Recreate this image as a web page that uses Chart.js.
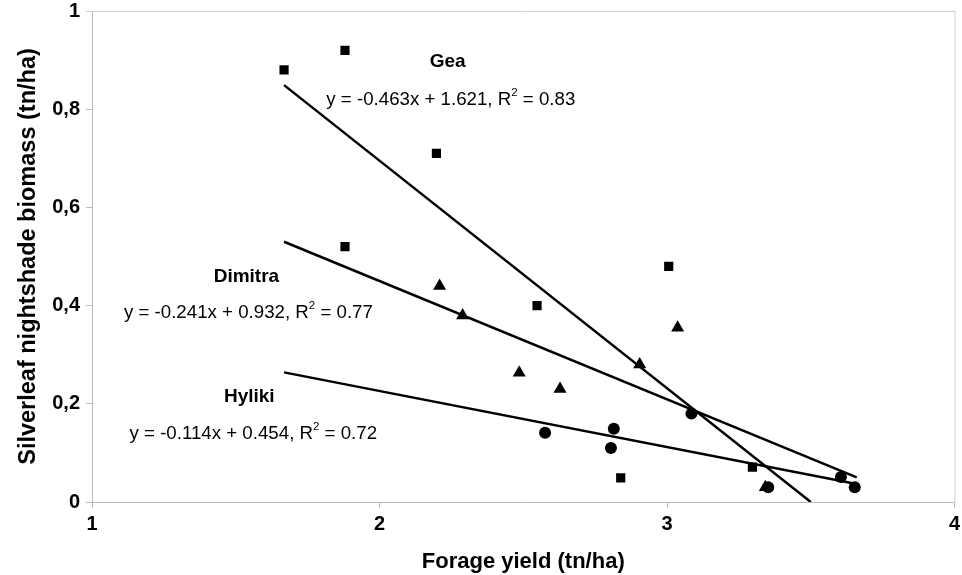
<!DOCTYPE html>
<html>
<head>
<meta charset="utf-8">
<script src="https://cdn.jsdelivr.net/npm/chart.js@4"></script>
<style>
  html, body { margin: 0; padding: 0; background: #fff; }
  #wrap { width: 962px; height: 575px; }
</style>
</head>
<body>
<div id="wrap"><canvas id="graph"></canvas></div>
<script>
// values
const geaX = [1.668, 1.88, 2.198, 1.88, 2.548, 3.006, 2.839, 3.297];
const geaY = [0.88, 0.92, 0.71, 0.52, 0.40, 0.48, 0.049, 0.071];

const dimitraX = [2.209, 2.289, 2.486, 2.628, 2.905, 3.037, 3.342];
const dimitraY = [0.44, 0.38, 0.263, 0.23, 0.28, 0.355, 0.03];

const hylikiX = [2.576, 2.815, 2.805, 3.085, 3.352, 3.605, 3.653];
const hylikiY = [0.141, 0.149, 0.11, 0.18, 0.03, 0.051, 0.03];

// trend line end points
const geaFitX = [1.668, 3.5];
const geaFitY = [0.849, 0.0];
const dimitraFitX = [1.668, 3.66];
const dimitraFitY = [0.530, 0.050];
const hylikiFitX = [1.668, 3.655];
const hylikiFitY = [0.264, 0.037];

const xTicks = [1, 2, 3, 4];
const yTicks = [0, 0.2, 0.4, 0.6, 0.8, 1];

const seriesNames = ['Gea', 'Dimitra', 'Hyliki'];
const equations = [
  ['y = -0.463x + 1.621, R', '2', ' = 0.83'],
  ['y = -0.241x + 0.932, R', '2', ' = 0.77'],
  ['y = -0.114x + 0.454, R', '2', ' = 0.72']
];

function pts(xs, ys) {
  return xs.map((x, i) => ({ x: x, y: ys[i] }));
}

const font = '"Liberation Sans", Arial, sans-serif';

// where the labels sit (data coordinates)
const labelPos = [
  { name: [2.237, 0.896], eq: [2.248, 0.820] },
  { name: [1.537, 0.459], eq: [1.544, 0.386] },
  { name: [1.547, 0.214], eq: [1.561, 0.139] }
];

const textPlugin = {
  id: 'eqText',
  afterDraw(chart) {
    const ctx = chart.ctx;
    const xs = chart.scales.x, ys = chart.scales.y;
    const a = chart.chartArea;
    ctx.save();
    // frame top + right
    ctx.strokeStyle = '#cfcfcf';
    ctx.lineWidth = 1;
    ctx.beginPath();
    ctx.moveTo(a.left - 6, a.top + 0.5);
    ctx.lineTo(a.right + 0.5, a.top + 0.5);
    ctx.lineTo(a.right + 0.5, a.bottom);
    ctx.stroke();

    ctx.fillStyle = '#000';
    ctx.textBaseline = 'middle';
    labelPos.forEach((p, i) => {
      ctx.font = 'bold 19px ' + font;
      ctx.textAlign = 'center';
      ctx.fillText(seriesNames[i], xs.getPixelForValue(p.name[0]), ys.getPixelForValue(p.name[1]));

      const parts = equations[i];
      ctx.textAlign = 'left';
      ctx.font = '18.7px ' + font;
      const w0 = ctx.measureText(parts[0]).width;
      const w2 = ctx.measureText(parts[2]).width;
      ctx.font = '11.5px ' + font;
      const w1 = ctx.measureText(parts[1]).width;
      let cx = xs.getPixelForValue(p.eq[0]) - (w0 + w1 + w2) / 2;
      const cy = ys.getPixelForValue(p.eq[1]);
      ctx.font = '18.7px ' + font;
      ctx.fillText(parts[0], cx, cy);
      cx += w0;
      ctx.font = '11.5px ' + font;
      ctx.fillText(parts[1], cx, cy - 7);
      cx += w1;
      ctx.font = '18.7px ' + font;
      ctx.fillText(parts[2], cx, cy);
    });
    ctx.restore();
  }
};

const markerBase = { showLine: false, backgroundColor: '#000', borderColor: '#000', borderWidth: 0 };
const fitBase = { showLine: true, pointRadius: 0, borderColor: '#000', borderWidth: 2.5, fill: false };

const config = {
  type: 'scatter',
  data: {
    datasets: [
      Object.assign({ label: 'Gea fit', data: pts(geaFitX, geaFitY) }, fitBase),
      Object.assign({ label: 'Dimitra fit', data: pts(dimitraFitX, dimitraFitY) }, fitBase),
      Object.assign({ label: 'Hyliki fit', data: pts(hylikiFitX, hylikiFitY) }, fitBase),
      Object.assign({ label: 'Gea', data: pts(geaX, geaY), pointStyle: 'rect', pointRadius: 6.5 }, markerBase),
      Object.assign({ label: 'Dimitra', data: pts(dimitraX, dimitraY), pointStyle: 'triangle', pointRadius: 7.5 }, markerBase),
      Object.assign({ label: 'Hyliki', data: pts(hylikiX, hylikiY), pointStyle: 'circle', pointRadius: 6 }, markerBase)
    ]
  },
  options: {
    responsive: true,
    maintainAspectRatio: false,
    animation: false,
    clip: true,
    layout: { padding: { left: 0, top: 1, right: 0, bottom: 0 } },
    plugins: {
      legend: { display: false },
      tooltip: { enabled: false }
    },
    scales: {
      x: {
        type: 'linear',
        min: xTicks[0],
        max: xTicks[xTicks.length - 1],
        afterFit(s) { s.height = 73; s.paddingRight = 4; },
        afterBuildTicks(s) { s.ticks = xTicks.map(v => ({ value: v })); },
        border: { color: '#bbbbbb', width: 1 },
        grid: { drawOnChartArea: false, drawTicks: true, tickLength: 6, color: '#bbbbbb' },
        ticks: {
          color: '#000', padding: 4,
          font: { family: font, size: 20, weight: 'bold' },
          callback: v => String(v)
        },
        title: {
          display: true, text: 'Forage yield (tn/ha)', color: '#000',
          font: { family: font, size: 22, weight: 'bold' },
          padding: { top: 0, bottom: 0 }
        }
      },
      y: {
        type: 'linear',
        min: yTicks[0],
        max: yTicks[yTicks.length - 1],
        afterFit(s) { s.width = 92; s.paddingTop = 11; },
        afterBuildTicks(s) { s.ticks = yTicks.map(v => ({ value: v })); },
        border: { color: '#bbbbbb', width: 1 },
        grid: { drawOnChartArea: false, drawTicks: true, tickLength: 6, color: '#bbbbbb' },
        ticks: {
          color: '#000', padding: 6,
          font: { family: font, size: 20, weight: 'bold' },
          callback: v => String(Math.round(v * 10) / 10).replace('.', ',')
        },
        title: {
          display: true, text: 'Silverleaf nightshade biomass (tn/ha)', color: '#000',
          font: { family: font, size: 23.5, weight: 'bold' },
          padding: { top: 14, bottom: 0 }
        }
      }
    }
  },
  plugins: [textPlugin]
};

new Chart(document.getElementById('graph'), config);
</script>
</body>
</html>
